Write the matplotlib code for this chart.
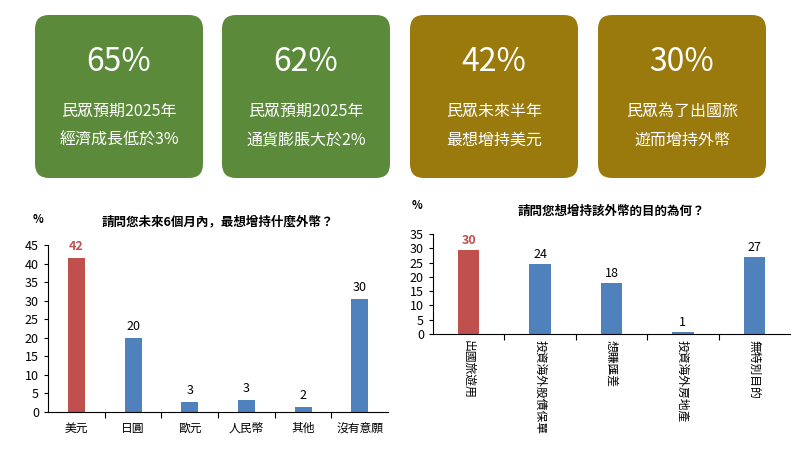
import matplotlib.pyplot as plt
from matplotlib.patches import FancyBboxPatch

plt.rcParams['font.family'] = ['Noto Sans CJK TC', 'Noto Sans CJK JP', 'Noto Sans CJK SC', 'DejaVu Sans']

# top boxes
box_big = ['65%', '62%', '42%', '30%']
box_text = ['民眾預期2025年\n經濟成長低於3%', '民眾預期2025年\n通貨膨脹大於2%',
            '民眾未來半年\n最想增持美元', '民眾為了出國旅\n遊而增持外幣']
box_colors = ['#5b8a3a', '#5b8a3a', '#9a7a0c', '#9a7a0c']
box_x = [35, 222, 410, 598]

# left chart
cur_labels = ['美元', '日圓', '歐元', '人民幣', '其他', '沒有意願']
cur_values = [41.6, 20.0, 2.7, 3.3, 1.4, 30.4]
cur_text = ['42', '20', '3', '3', '2', '30']

# right chart
use_labels = ['出國旅遊用', '投資海外股債保單', '想賺匯差', '投資海外房地產', '無特別目的']
use_values = [29.5, 24.4, 18.0, 0.6, 26.8]
use_text = ['30', '24', '18', '1', '27']

W, H = 800, 451
fig = plt.figure(figsize=(8, 4.51), dpi=100)
bg = fig.add_axes([0, 0, 1, 1])
bg.set_xlim(0, W); bg.set_ylim(H, 0); bg.axis('off')

for x, big, txt, c in zip(box_x, box_big, box_text, box_colors):
    bg.add_patch(FancyBboxPatch((x + 8, 23), 152, 147, boxstyle='round,pad=8,rounding_size=14',
                                fc=c, ec='none'))
    bg.text(x + 84, 62, big, color='white', fontsize=23, ha='center', va='center')
    bg.text(x + 84, 126, txt, color='white', fontsize=11.5, ha='center', va='center', linespacing=1.9)

red, blue = '#c0504d', '#4f81bd'

def bar_chart(rect, labels, values, texts, ymax, title, rot):
    ax = fig.add_axes(rect)
    xs = range(len(values))
    cols = [red] + [blue] * (len(values) - 1)
    ax.bar(xs, values, width=0.3, color=cols)
    for i, (v, t) in enumerate(zip(values, texts)):
        ax.text(i, v + ymax * 0.03, t, ha='center', va='bottom', fontsize=9,
                color=red if i == 0 else 'black', fontweight='bold' if i == 0 else 'normal')
    ax.set_ylim(0, ymax)
    ax.set_xlim(-0.5, len(values) - 0.5)
    ax.set_yticks(range(0, ymax + 1, 5))
    ax.tick_params(axis='y', labelsize=9, length=3)
    ax.set_xticks([i + 0.5 for i in range(len(values) - 1)])
    ax.set_xticklabels([])
    ax.tick_params(axis='x', length=4, direction='out')
    for i, lab in enumerate(labels):
        ax.text(i, -ymax * 0.06, lab, ha='center', va='top', fontsize=8.5, rotation=rot)
    for s in ['top', 'right']:
        ax.spines[s].set_visible(False)
    ax.set_title(title, fontsize=9, fontweight='bold', pad=14)
    return ax

axl = bar_chart([48 / W, 1 - 412 / H, 340 / W, 167 / H], cur_labels, cur_values, cur_text, 45,
                '請問您未來6個月內，最想增持什麼外幣？', 0)
axl.text(-0.045, 1.13, '%', transform=axl.transAxes, fontsize=8, fontweight='bold')
axr = bar_chart([433 / W, 1 - 334 / H, 357 / W, 100 / H], use_labels, use_values, use_text, 35,
                '請問您想增持該外幣的目的為何？', 270)
axr.text(-0.06, 1.25, '%', transform=axr.transAxes, fontsize=8, fontweight='bold')

fig.savefig('out.png', dpi=100)
